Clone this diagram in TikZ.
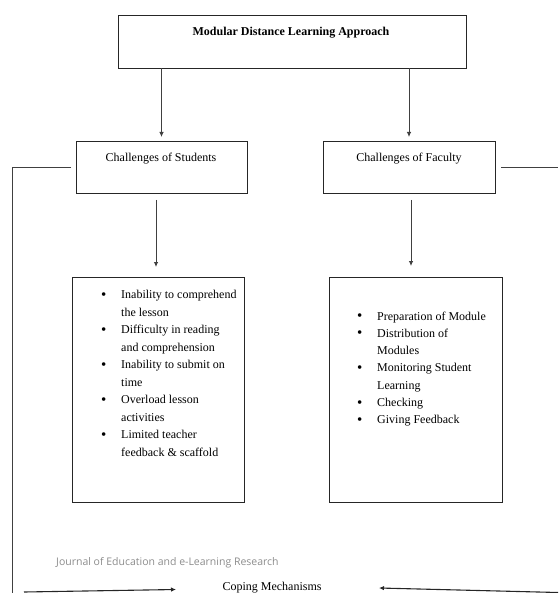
\documentclass[tikz,border=0pt]{standalone}
\usepackage{fontspec}
\setmainfont{Liberation Serif}
\newfontfamily\journalfont{Open Sans}
\usetikzlibrary{arrows.meta}
\begin{document}
\begin{tikzpicture}[x=1pt,y=-1pt,
  boxnode/.style={draw=black!85,line width=0.9pt,inner sep=0pt,outer sep=0pt},
  lbl/.style={font=\fontsize{12}{14}\selectfont,inner sep=0pt,anchor=base},
  itemtxt/.style={font=\fontsize{12}{14}\selectfont,inner sep=0pt,anchor=base west},
  bul/.style={font=\fontsize{15}{15}\selectfont,inner sep=0pt,anchor=base west},
  conn/.style={draw=black!75,line width=0.8pt},
  arr/.style={conn,-{Latex[length=5pt,width=4.5pt]}}]
\useasboundingbox (0,0) rectangle (558,593);
% boxes
\node[boxnode,minimum width=348pt,minimum height=53pt] (top) at (292,41.9) {};
\node[boxnode,minimum width=171pt,minimum height=52pt] (stud) at (161.5,167) {};
\node[boxnode,minimum width=172pt,minimum height=52pt] (fac) at (409,167) {};
\node[boxnode,minimum width=172pt,minimum height=225pt] (lbox) at (158,389.5) {};
\node[boxnode,minimum width=173pt,minimum height=225pt] (rbox) at (415.5,389.5) {};
% titles
\node[lbl,font=\fontsize{12}{14}\selectfont\bfseries] (toptxt) at (291,36) {Modular Distance Learning Approach};
\node[lbl] (studtxt) at (161,162) {Challenges of Students};
\node[lbl] (factxt) at (409,162) {Challenges of Faculty};
% left list
\foreach \i/\t/\b in {1/Inability to comprehend/1,2/the lesson/0,3/Difficulty in reading/1,4/and comprehension/0,5/Inability to submit on/1,6/time/0,7/Overload lesson/1,8/activities/0,9/Limited teacher/1,10/feedback \& scaffold/0}{
  \node[itemtxt] (sl\i) at (121,{298.5+17.5*(\i-1)}) {\t};
  \ifnum\b=1 \node[bul] (sb\i) at (101,{299+17.5*(\i-1)}) {\textbullet};\fi
}
% right list
\foreach \i/\t/\b in {1/Preparation of Module/1,2/Distribution of/1,3/Modules/0,4/Monitoring Student/1,5/Learning/0,6/Checking/1,7/Giving Feedback/1}{
  \node[itemtxt] (fl\i) at (377,{320+17.3*(\i-1)}) {\t};
  \ifnum\b=1 \node[bul] (fb\i) at (357,{320.5+17.3*(\i-1)}) {\textbullet};\fi
}
% journal text and coping
\node[itemtxt,font=\journalfont\fontsize{10.5}{12}\selectfont,text=black!45] (jour) at (56,565) {Journal of Education and e-Learning Research};
\node[lbl] (cope) at (272,590) {Coping Mechanisms};
% arrows
\draw[arr,shorten >=4pt] (top.south -| stud.north) -- (stud.north);
\draw[arr,shorten >=4pt] (top.south -| fac.north) -- (fac.north);
\draw[arr,shorten <=7pt,shorten >=10pt] ([xshift=-5.5pt]stud.south) -- ([xshift=-5.5pt]stud.south |- lbox.north);
\draw[arr,shorten <=7pt,shorten >=11pt] ([xshift=2pt]fac.south) -- ([xshift=2pt]fac.south |- rbox.north);
% side lines
\coordinate (lcorner) at (12,167);
\coordinate (lbot) at (12,593);
\coordinate (rend) at (558,167);
\draw[conn] ([xshift=-5pt]stud.west) -- (lcorner) -- (lbot);
\draw[conn] ([xshift=6pt]fac.east) -- (rend);
% bottom arrows
\coordinate (la0) at (24,592);
\coordinate (la1) at (176,589.5);
\coordinate (ra0) at (558,592.5);
\coordinate (ra1) at (379,588);
\draw[arr,line width=1.1pt,draw=black!85] (la0) -- (la1);
\draw[arr,line width=1.1pt,draw=black!85] (ra0) -- (ra1);
\end{tikzpicture}
\end{document}
